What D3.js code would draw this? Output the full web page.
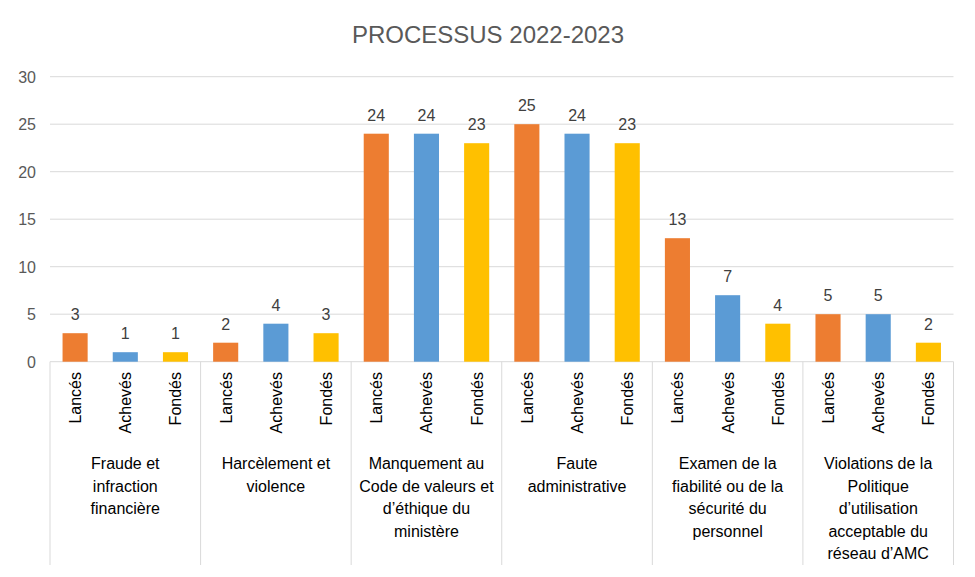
<!DOCTYPE html>
<html><head><meta charset="utf-8">
<script src="https://cdn.jsdelivr.net/npm/d3@7"></script>
<style>body{margin:0;background:#fff;}svg{display:block;font-family:"Liberation Sans",Arial,sans-serif;}</style>
</head><body>
<svg id="c" width="975" height="577"></svg>
<script>
const groups = [
  ["Fraude et","infraction","financière"],
  ["Harcèlement et","violence"],
  ["Manquement au","Code de valeurs et","d’éthique du","ministère"],
  ["Faute","administrative"],
  ["Examen de la","fiabilité ou de la","sécurité du","personnel"],
  ["Violations de la","Politique","d’utilisation","acceptable du","réseau d’AMC"]
];
const series = ["Lancés","Achevés","Fondés"];
const lances  = [3, 2, 24, 25, 13, 5];
const acheves = [1, 4, 24, 24, 7, 5];
const fondes  = [1, 3, 23, 23, 4, 2];
const colors = ["#ED7D31","#5B9BD5","#FFC000"];
const yTicks = [0,5,10,15,20,25,30];
const title = "PROCESSUS 2022-2023";

const svg = d3.select("#c");
const mLeft = 50, mRight = 953.5, mTop = 76.7, mBottom = 361.7;
const x0 = d3.scaleBand().domain(d3.range(groups.length)).range([mLeft, mRight]).padding(0);
const x1 = d3.scaleBand().domain(series).range([0, x0.bandwidth()]).paddingInner(0.5).paddingOuter(0.25);
const y = d3.scaleLinear().domain([0,30]).range([mBottom, mTop]);
const vals = [lances, acheves, fondes];

svg.append("text").attr("x", 488).attr("y", 43).attr("text-anchor","middle")
  .attr("font-size", 24).attr("fill","#595959").text(title);

svg.append("g").selectAll("line").data(yTicks).join("line")
  .attr("x1", mLeft).attr("x2", mRight).attr("y1", d=>y(d)).attr("y2", d=>y(d))
  .attr("stroke","#d9d9d9").attr("stroke-width",1);
svg.append("g").selectAll("text").data(yTicks).join("text")
  .attr("x", 36).attr("y", d=>y(d)+6).attr("text-anchor","end")
  .attr("font-size",16).attr("fill","#595959").text(d=>d);

const g = svg.append("g");
groups.forEach((grp,i)=>{
  series.forEach((s,j)=>{
    const v = vals[j][i];
    const bx = x0(i)+x1(s);
    g.append("rect").attr("x", bx).attr("y", y(v)).attr("width", x1.bandwidth())
      .attr("height", y(0)-y(v)).attr("fill", colors[j]);
    g.append("text").attr("x", bx + x1.bandwidth()/2).attr("y", y(v)-13)
      .attr("text-anchor","middle").attr("font-size",16).attr("fill","#404040").text(v);
    g.append("text").attr("transform",`translate(${bx + x1.bandwidth()/2 + 6},372) rotate(-90)`)
      .attr("text-anchor","end").attr("font-size",16).attr("fill","#000").text(s);
  });
  const t = g.append("text").attr("text-anchor","middle").attr("font-size",16).attr("fill","#000");
  grp.forEach((line,k)=>{
    t.append("tspan").attr("x", x0(i)+x0.bandwidth()/2).attr("y", 469 + k*22.5).text(line);
  });
});
svg.append("g").selectAll("line").data(d3.range(groups.length+1)).join("line")
  .attr("x1", d=> d<groups.length ? x0(d) : mRight).attr("x2", d=> d<groups.length ? x0(d) : mRight)
  .attr("y1", mBottom).attr("y2", 565).attr("stroke","#d9d9d9").attr("stroke-width",1);
</script>
</body></html>
